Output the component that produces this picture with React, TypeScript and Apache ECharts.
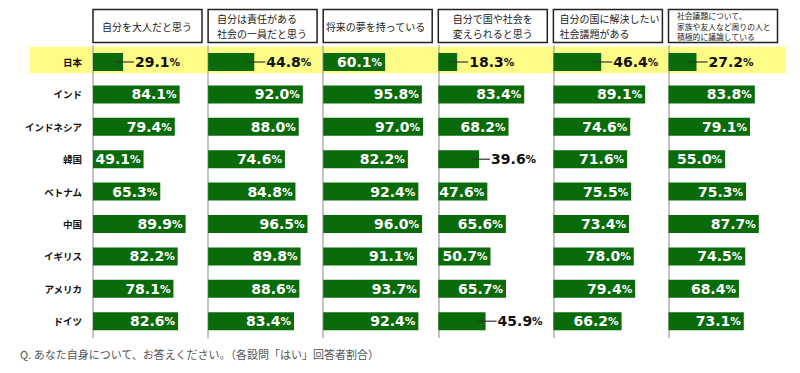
import React, { useEffect, useRef } from "react";
import * as echarts from "echarts";

const categories = ["日本", "インド", "インドネシア", "韓国", "ベトナム", "中国", "イギリス", "アメリカ", "ドイツ"];

const questions = [
  "自分を大人だと思う",
  "自分は責任がある\n社会の一員だと思う",
  "将来の夢を持っている",
  "自分で国や社会を\n変えられると思う",
  "自分の国に解決したい\n社会議題がある",
  "社会議題について、\n家族や友人など周りの人と\n積極的に議論している",
];

const q1 = [29.1, 84.1, 79.4, 49.1, 65.3, 89.9, 82.2, 78.1, 82.6];
const q2 = [44.8, 92.0, 88.0, 74.6, 84.8, 96.5, 89.8, 88.6, 83.4];
const q3 = [60.1, 95.8, 97.0, 82.2, 92.4, 96.0, 91.1, 93.7, 92.4];
const q4 = [18.3, 83.4, 68.2, 39.6, 47.6, 65.6, 50.7, 65.7, 45.9];
const q5 = [46.4, 89.1, 74.6, 71.6, 75.5, 73.4, 78.0, 79.4, 66.2];
const q6 = [27.2, 83.8, 79.1, 55.0, 75.3, 87.7, 74.5, 68.4, 73.1];

const seriesValues = [q1, q2, q3, q4, q5, q6];

const footnote = "Q. あなた自身について、お答えください。（各設問「はい」回答者割合）";

const JP = '"Noto Sans CJK JP", sans-serif';
const NUM = '"DejaVu Sans", Verdana, sans-serif';
const GREEN = "#0a6b0a";

const PANEL_LEFT = 93;
const PANEL_STEP = 115.1;
const HEADER_OFFSETS = [9, 9, 2.5, 14.5, 6, 8.5];

export default function App() {
  const ref = useRef<HTMLDivElement>(null);

  useEffect(() => {
    if (!ref.current) return;
    const chart = echarts.init(ref.current, undefined, { renderer: "svg" });

    const insideLabel = {
      show: true,
      position: "insideRight",
      distance: 3,
      formatter: (p: any) => `{v|${Number(p.value).toFixed(1)}}{p|%}`,
      rich: {
        v: { fontFamily: NUM, fontSize: 14, fontWeight: "bold", color: "#fff" },
        p: { fontFamily: NUM, fontSize: 10.5, fontWeight: "bold", color: "#fff" },
      },
    };

    const outsideLabel = {
      show: true,
      position: "right",
      distance: 0,
      offset: [-8, 0],
      formatter: (p: any) => `{ln|}{v|${Number(p.value).toFixed(1)}}{p|%}`,
      rich: {
        ln: { width: 19, height: 1.2, backgroundColor: "#333", verticalAlign: "middle" },
        v: { fontFamily: NUM, fontSize: 14, fontWeight: "bold", color: "#111", padding: [0, 0, 0, 1] },
        p: { fontFamily: NUM, fontSize: 10.5, fontWeight: "bold", color: "#111" },
      },
    };

    const graphics: any[] = [
      {
        type: "rect",
        z: -10,
        shape: { x: 30, y: 46.7, width: 756, height: 26.6 },
        style: { fill: "#fdfc86" },
      },
      {
        type: "text",
        x: 20,
        y: 354,
        style: {
          text: footnote,
          font: `11px ${JP}`,
          fill: "#555",
          align: "left",
          verticalAlign: "middle",
        },
      },
    ];

    questions.forEach((q, i) => {
      const left = PANEL_LEFT + PANEL_STEP * i;
      const small = i === 5;
      graphics.push({
        type: "rect",
        shape: { x: left, y: 9.5, width: 109, height: 33 },
        style: { fill: "#fff", stroke: "#222", lineWidth: 1.5 },
      });
      graphics.push({
        type: "text",
        x: left + HEADER_OFFSETS[i],
        y: 26,
        style: {
          text: q,
          font: `${small ? 7.8 : 10}px ${JP}`,
          fill: "#222",
          align: "left",
          verticalAlign: "middle",
          lineHeight: small ? 10.6 : 14.3,
        },
      });
    });

    const option: any = {
      animation: false,
      grid: questions.map((_, i) => ({
        left: PANEL_LEFT + PANEL_STEP * i,
        top: 45.8,
        width: 103,
        height: 291.6,
      })),
      xAxis: questions.map((_, i) => ({
        type: "value",
        gridIndex: i,
        min: 0,
        max: 100,
        show: false,
      })),
      yAxis: questions.map((_, i) => ({
        type: "category",
        gridIndex: i,
        data: categories,
        inverse: true,
        axisLine: { show: true, lineStyle: { color: "#b0b0b0", width: 1.5 } },
        axisTick: { show: false },
        splitLine: { show: false },
        axisLabel: {
          show: i === 0,
          fontFamily: JP,
          fontSize: 9.5,
          fontWeight: "bold",
          color: "#111",
          margin: 11,
        },
      })),
      series: seriesValues.map((vals, i) => ({
        type: "bar",
        xAxisIndex: i,
        yAxisIndex: i,
        barWidth: 18,
        itemStyle: { color: GREEN },
        label: insideLabel,
        data: vals.map((v) => (v < 47 ? { value: v, label: outsideLabel } : { value: v })),
      })),
      graphic: graphics,
    };

    chart.setOption(option);
    return () => chart.dispose();
  }, []);

  return (
    <div
      ref={ref}
      style={{ position: "absolute", left: 0, top: 0, width: 800, height: 373, background: "#fff" }}
    />
  );
}
